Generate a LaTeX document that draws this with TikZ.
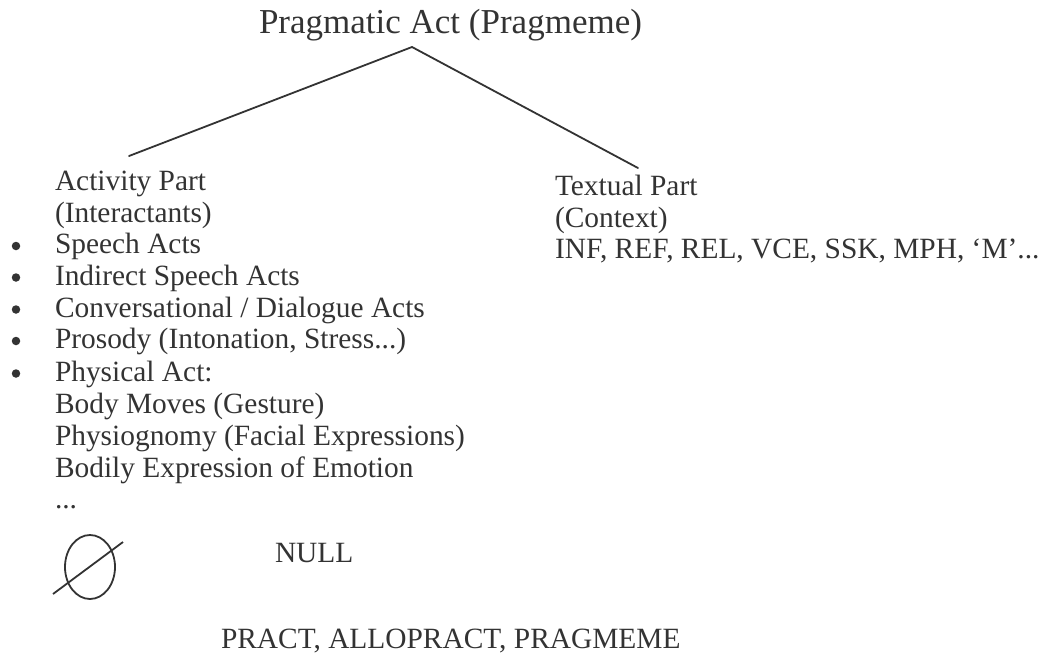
\documentclass[tikz,border=0pt]{standalone}
\usepackage{fontspec}
\setmainfont{Liberation Serif}
\begin{document}
\begin{tikzpicture}[x=1pt,y=-1pt,
  txt/.style={anchor=base west,inner sep=0pt,outer sep=0pt,text=ink,font=\fontsize{29.4}{32}\selectfont},
  ttl/.style={anchor=base west,inner sep=0pt,outer sep=0pt,text=ink,font=\fontsize{35}{40}\selectfont},
  bul/.style={circle,fill=ink,inner sep=0pt,minimum size=8.5pt},
  branch/.style={draw=ink,line width=1.8pt},
  nullsym/.style={draw=ink,line width=1.8pt}]
\definecolor{ink}{HTML}{333333}
\useasboundingbox (0,0) rectangle (1049,654);
\node[ttl] (title) at (259,33) {Pragmatic Act (Pragmeme)};
\coordinate (apex) at (412,47);
\coordinate (lend) at (129,156);
\coordinate (rend) at (638,168);
\draw[branch,line cap=round,line join=miter] (lend) -- (apex) -- (rend);
% activity part
\node[txt] (a1) at (55,190.5) {Activity Part};
\node[txt] (a2) at (55,222) {(Interactants)};
\node[txt] (a3) at (55,253.5) {Speech Acts};
\node[txt] (a4) at (55,285) {Indirect Speech Acts};
\node[txt] (a5) at (55,317) {Conversational / Dialogue Acts};
\node[txt] (a6) at (55,348.5) {Prosody (Intonation, Stress...)};
\node[txt] (a7) at (55,381) {Physical Act:};
\node[txt] (a8) at (55,413) {Body Moves (Gesture)};
\node[txt] (a9) at (55,445) {Physiognomy (Facial Expressions)};
\node[txt] (a10) at (55,477) {Bodily Expression of Emotion};
\node[txt] (a11) at (55,508) {...};
\node[bul] (b3) at (16,246) {};
\node[bul] (b4) at (16,277.5) {};
\node[bul] (b5) at (16,309.5) {};
\node[bul] (b6) at (16,341) {};
\node[bul] (b7) at (16,373.5) {};
% textual part
\node[txt] (t1) at (555,195) {Textual Part};
\node[txt] (t2) at (555,227) {(Context)};
\node[txt] (t3) at (555,258.5) {INF, REF, REL, VCE, SSK, MPH, ‘M’...};
% null
\coordinate (nc) at (90,567);
\draw[nullsym] (nc) ellipse [x radius=25, y radius=32];
\coordinate (ns) at (53,594);
\coordinate (ne) at (123,542);
\draw[nullsym] (ns) -- (ne);
\node[txt] (null) at (275,562) {NULL};
\node[txt] (bottom) at (221,648) {PRACT, ALLOPRACT, PRAGMEME};
\end{tikzpicture}
\end{document}
